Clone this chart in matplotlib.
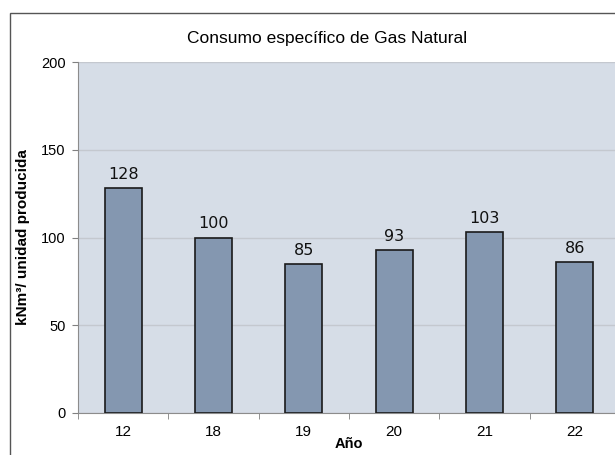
import matplotlib.pyplot as plt
from matplotlib.patches import Rectangle

# datos
anios = ['12', '18', '19', '20', '21', '22']
consumo = [128, 100, 85, 93, 103, 86]

plt.rcParams['font.family'] = ['Liberation Sans', 'DejaVu Sans']

fig = plt.figure(figsize=(6.15, 4.55), dpi=100)
ax = fig.add_axes([78 / 615, 1 - 413 / 455, (620 - 78) / 615, (413 - 62) / 455])

# marco exterior del gráfico
fig.patches.append(Rectangle((10 / 615, -0.1), 1.2, 1.1 - 13 / 455,
                             transform=fig.transFigure, fill=False,
                             edgecolor='#555555', linewidth=1.0))

ax.set_facecolor('#d6dde7')
x = range(len(anios))
ax.bar(x, consumo, width=0.41, color='#8497b0', edgecolor='#1a1a1a',
       linewidth=1.2, zorder=3)

for i, v in enumerate(consumo):
    ax.text(i, v + 3.5, str(v), ha='center', va='bottom', fontsize=11.5,
            family='DejaVu Sans', color='#111111', zorder=4)

ax.set_xlim(-0.5, 5.5)
ax.set_ylim(0, 200)
ax.set_yticks([0, 50, 100, 150, 200])
ax.set_xticks(list(x))
ax.set_xticklabels(anios)
ax.set_xticks([i + 0.5 for i in range(-1, 6)], minor=True)
ax.tick_params(axis='x', which='major', length=0, labelsize=11, pad=9)
ax.tick_params(axis='x', which='minor', length=4, color='#808080')
ax.tick_params(axis='y', length=4, color='#808080', labelsize=10.5, pad=5)
ax.yaxis.grid(True, color='#c4c8cf', linewidth=1.0, zorder=0)

for s in ['top', 'right']:
    ax.spines[s].set_visible(False)
for s in ['left', 'bottom']:
    ax.spines[s].set_color('#8c8c8c')

fig.text(327 / 615, 1 - 38 / 455, 'Consumo específico de Gas Natural',
         fontsize=12.5, ha='center', va='center')
ax.set_ylabel('kNm³/ unidad producida', fontsize=11, fontweight='bold', labelpad=8)
ax.set_xlabel('Año', fontsize=10.5, fontweight='bold', labelpad=-2)

fig.savefig('out.png', dpi=100)
